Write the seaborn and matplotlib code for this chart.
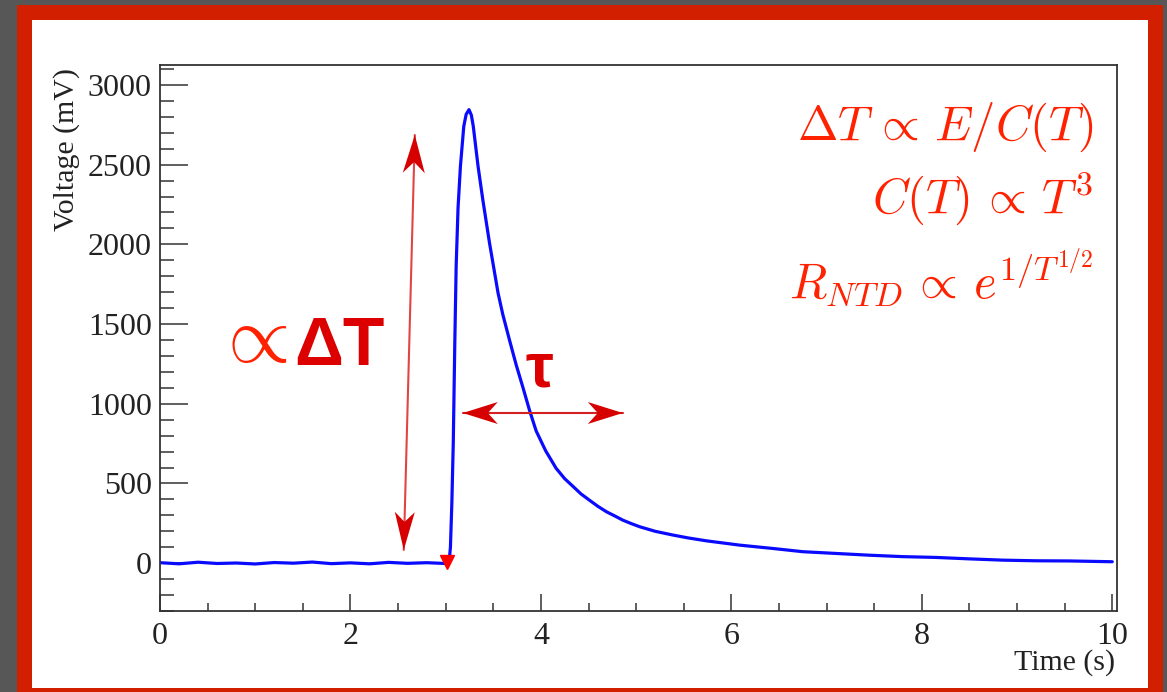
import numpy as np
import matplotlib
matplotlib.use("Agg")
import matplotlib.pyplot as plt
from matplotlib.patches import Rectangle, Polygon
from matplotlib.transforms import IdentityTransform
from matplotlib.ticker import MultipleLocator
import pandas as pd
import seaborn as sns

# ---------------- data ----------------
baseline_t = [0.0, 0.2, 0.4, 0.6, 0.8, 1.0, 1.2, 1.4, 1.6, 1.8, 2.0, 2.2, 2.4, 2.6, 2.8, 3.0]
baseline_v = [3, -4, 6, -2, 1, -5, 4, 0, 7, -3, 2, -4, 5, -1, 3, -2]
pulse_t = [3.035, 3.05, 3.065, 3.08, 3.095, 3.11, 3.13, 3.155, 3.19, 3.215, 3.245,
           3.27, 3.29, 3.34, 3.39, 3.46, 3.55, 3.60, 3.67, 3.74, 3.81, 3.88, 3.95,
           4.05, 4.16, 4.25, 4.34, 4.42, 4.51, 4.60, 4.69, 4.78, 4.86, 4.95, 5.04,
           5.20, 5.39, 5.55, 5.74, 6.09, 6.44, 6.75, 7.10, 7.45, 7.80, 8.15, 8.50,
           8.85, 9.20, 9.55, 10.0]
pulse_v = [0, 100, 380, 760, 1350, 1860, 2230, 2490, 2740, 2815, 2845,
           2810, 2740, 2490, 2280, 2010, 1695, 1560, 1400, 1245, 1105, 960, 830,
           705, 595, 530, 480, 435, 395, 356, 322, 295, 270, 248, 228,
           200, 176, 158, 140, 113, 92, 72, 61, 50, 41, 36, 27,
           19, 15, 14, 9]
time_s = baseline_t + pulse_t
voltage_mv = baseline_v + pulse_v

x_ticks = [0, 2, 4, 6, 8, 10]
y_ticks = [0, 500, 1000, 1500, 2000, 2500, 3000]
formulas = [r"$\Delta T \,\propto\, E/C(T)$", r"$C(T) \,\propto\, T^3$",
            r"$R_{NTD} \,\propto\, e^{1/T^{1/2}}$"]

# ---------------- style ----------------
sns.set_theme(style="white")
plt.rcParams["font.family"] = ["Liberation Serif", "DejaVu Serif"]
plt.rcParams["mathtext.fontset"] = "cm"

W, H = 1167, 692
fig = plt.figure(figsize=(W / 100, H / 100), dpi=100)
fig.patch.set_facecolor("#575757")

def px_rect(x0, y0, x1, y1, color, z):
    fig.patches.append(Rectangle((x0 / W, 1 - y1 / H), (x1 - x0) / W, (y1 - y0) / H,
                                 transform=fig.transFigure, facecolor=color,
                                 edgecolor="none", zorder=z))

px_rect(17, 5, 1163, 710, "#d21f00", -20)
px_rect(32, 20, 1148, 688, "white", -19)

ax = fig.add_axes([160 / W, 1 - 611 / H, (1117 - 160) / W, (611 - 65) / H])
ax.set_facecolor("white")

df = pd.DataFrame({"t": time_s, "v": voltage_mv})
sns.lineplot(data=df, x="t", y="v", ax=ax, color="#0a0aff", linewidth=2.3,
             sort=False, estimator=None)

ax.set_xlim(0, 10.05)
ax.set_ylim(-300, 3125)
ax.set_xticks(x_ticks)
ax.set_xticklabels([str(v) for v in x_ticks])
ax.set_yticks(y_ticks)
ax.set_yticklabels([str(v) for v in y_ticks])
ax.xaxis.set_minor_locator(MultipleLocator(0.5))
ax.yaxis.set_minor_locator(MultipleLocator(100))
ax.set_xlabel("")
ax.set_ylabel("")

for s in ax.spines.values():
    s.set_color("#333333")
    s.set_linewidth(1.3)

ax.tick_params(axis="y", which="major", direction="in", length=20, width=1.1,
               color="#333333", left=True, right=False, labelsize=23,
               labelcolor="#222222", pad=6)
ax.tick_params(axis="y", which="minor", direction="in", length=10, width=1.1,
               color="#333333", left=True, right=False)
ax.tick_params(axis="x", which="major", direction="in", length=12, width=1.1,
               color="#333333", bottom=True, top=False, labelsize=23,
               labelcolor="#222222", pad=8)
ax.tick_params(axis="x", which="minor", direction="in", length=6, width=1.1,
               color="#333333", bottom=True, top=False)

fig.text(67 / W, 1 - 68 / H, "Voltage (mV)", rotation=90, ha="center", va="top",
         fontsize=21.5, color="#222222")
fig.text(1115 / W, 1 - 670 / H, "Time (s)", ha="right", va="baseline",
         fontsize=21.5, color="#222222")

# ---------------- annotations ----------------
fig.canvas.draw()

def dart(tip, tail, L, hw, notch, color):
    p_tip = ax.transData.transform(tip)
    p_tail = ax.transData.transform(tail)
    d = p_tail - p_tip
    d = d / np.hypot(*d)
    n = np.array([-d[1], d[0]])
    pts = [p_tip, p_tip + d * L + n * hw, p_tip + d * (L - notch),
           p_tip + d * L - n * hw]
    fig.patches.append(Polygon(pts, closed=True, transform=IdentityTransform(),
                               facecolor=color, edgecolor="none", zorder=5))

# vertical double arrow (proportional to dT)
v_top = (2.676, 2686)
v_bot = (2.56, 83)
ax.plot([v_top[0], v_bot[0]], [v_top[1], v_bot[1]], color="#e24444", lw=1.5,
        zorder=4)
dart(v_top, v_bot, 38, 11, 11, "#d60000")
dart(v_bot, v_top, 38, 10, 10, "#d60000")

# horizontal double arrow (tau)
h_left = (3.18, 942)
h_right = (4.86, 942)
ax.plot([h_left[0], h_right[0]], [h_left[1], h_right[1]], color="#d42020", lw=1.5,
        zorder=4)
dart(h_left, h_right, 35, 11, 10, "#d60000")
dart(h_right, h_left, 35, 11, 10, "#d60000")

# trigger marker
ax.plot([3.01], [10], marker="v", markersize=9.5, color="#ff0000", zorder=6,
        linestyle="none")

# labels
ax.text(0.56, 1262, r"$\propto$", fontsize=58, color="#ff2200", ha="left",
        va="baseline")
ax.text(1.41, 1243, "\u0394T", fontsize=49, color="#dd0000", ha="left",
        va="baseline", fontweight="bold", family=["Liberation Sans", "DejaVu Sans"])
ax.text(3.98, 1110, "\u03c4", fontsize=45, color="#dd0000", ha="center",
        va="baseline", fontweight="bold", family=["Liberation Sans", "DejaVu Sans"])

for txt, yb in zip(formulas, [0.8626, 0.729, 0.573]):
    ax.text(0.975, yb, txt, transform=ax.transAxes, ha="right", va="baseline",
            fontsize=35, color="#ff2200")

fig.savefig("out.png", dpi=100, facecolor=fig.get_facecolor())
